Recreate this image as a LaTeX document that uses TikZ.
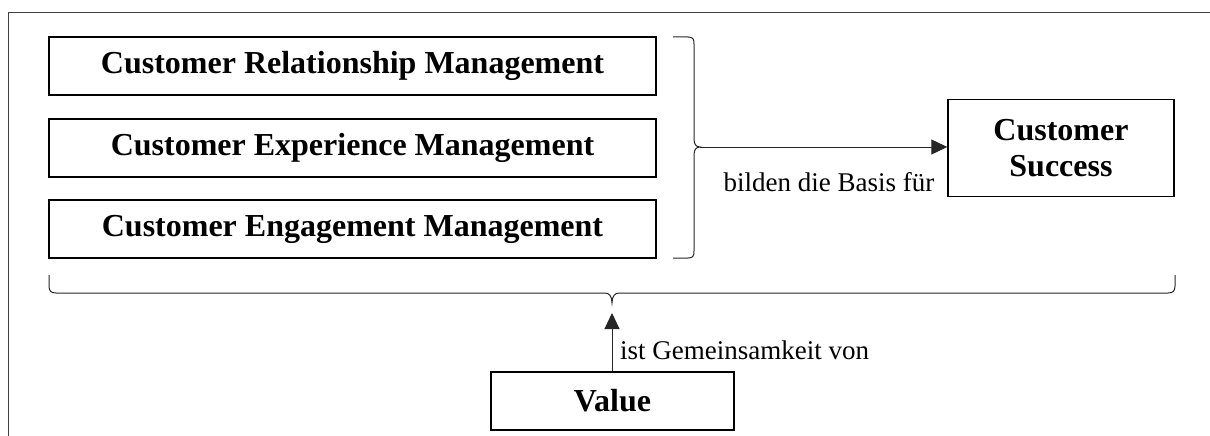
\documentclass[tikz,border=0pt]{standalone}
\usepackage{fontspec}
\setmainfont{Liberation Serif}
\usetikzlibrary{arrows.meta}
\begin{document}
\begin{tikzpicture}[x=1pt,y=-1pt,
  box/.style={draw=black,line width=1.4pt,inner sep=0pt,align=center,
    font=\fontsize{32}{36}\selectfont\bfseries},
  lbl/.style={inner sep=0pt,font=\fontsize{27}{30}\selectfont},
  thin/.style={draw=black!85,line width=1pt},
  tip/.style={-{Triangle[length=16pt,width=15pt]}}
]
\useasboundingbox (0,0) rectangle (1210,436);
% outer frame
\draw[thin,draw=black!75] (8,436) -- (8,13) -- (1210,13);

% the three management disciplines
\node[box,minimum width=607pt,minimum height=58pt] (crm) at (352.5,66) {Customer Relationship Management};
\node[box,minimum width=607pt,minimum height=58pt] (cxm) at (352.5,148) {Customer Experience Management};
\node[box,minimum width=607pt,minimum height=58pt] (cem) at (352.5,229) {Customer Engagement Management};

% goal and common ground
\node[box,minimum width=226pt,minimum height=97pt] (cs) at (1061,148) {Customer\\Success};
\node[box,minimum width=243pt,minimum height=58pt] (val) at (612.5,401) {Value};

% right brace around the three boxes
\coordinate (rtip) at (700,147);
\draw[thin] (673,37) -- (688,37) .. controls (693,37) and (694,39) .. (694,44)
  -- (694,139) .. controls (694,144) and (696,147) .. (rtip)
  .. controls (696,147) and (694,150) .. (694,155)
  -- (694,251) .. controls (694,256) and (693,258) .. (688,258) -- (673,258);

% bottom brace spanning the whole row
\coordinate (btip) at (612,303);
\coordinate (bhead) at (612,313);
\draw[thin] (49,275) -- (49,286) .. controls (49,291) and (51,293) .. (56,293)
  -- (605,293) .. controls (609,293) and (612,296) .. (btip)
  .. controls (612,296) and (615,293) .. (619,293)
  -- (1168,293) .. controls (1173,293) and (1175,291) .. (1175,286) -- (1175,275);

% connectors
\draw[thin,tip] (rtip) -- (cs.west |- rtip);
\draw[thin,tip] (val.north -| bhead) -- (bhead);

% connector labels
\node[lbl] (l1) at (829,182) {bilden die Basis für};
\node[lbl,anchor=west] (l2) at (620,350) {ist Gemeinsamkeit von};
\end{tikzpicture}
\end{document}
